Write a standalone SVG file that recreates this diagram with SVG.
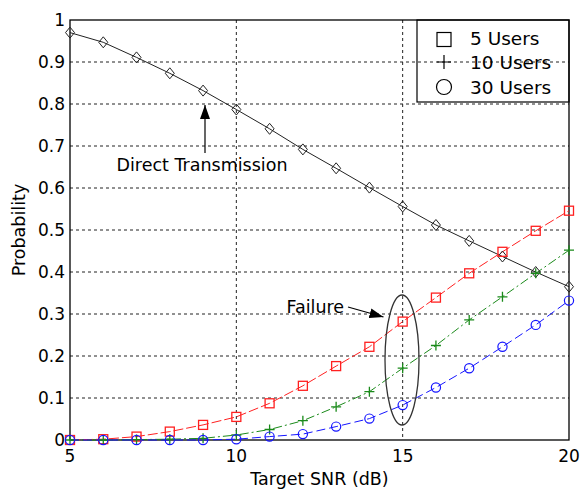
<svg xmlns="http://www.w3.org/2000/svg" width="580" height="490" viewBox="0 0 580 490">
<style>
text{font-family:"DejaVu Sans","Liberation Sans",sans-serif;fill:#000}
.tk{font-size:17px}
.yl{text-anchor:end}
.xl{text-anchor:middle}
.grid{stroke:#222;stroke-width:1;stroke-dasharray:3 3;fill:none}
.ax{stroke:#000;stroke-width:1.3;fill:none}
.s-black{stroke:#222;stroke-width:1;fill:none}
.s-red{stroke:#ff2020;stroke-width:1;fill:none;stroke-dasharray:10 3}
.s-green{stroke:#1a8a1a;stroke-width:1;fill:none;stroke-dasharray:9 3 2 3}
.s-blue{stroke:#1515ff;stroke-width:1;fill:none;stroke-dasharray:9 4}
.lbl{font-size:17.5px}
.leg{font-size:18.5px}
</style>
<defs>
<symbol id="dia" overflow="visible"><path d="M0,-5.5 L4.5,0 L0,5.5 L-4.5,0 Z" fill="none" stroke-dasharray="none"/></symbol>
<symbol id="sq" overflow="visible"><rect x="-4.5" y="-4.5" width="9" height="9" fill="none" stroke-dasharray="none" stroke-width="1.3"/></symbol>
<symbol id="pl" overflow="visible"><path d="M-5,0 H5 M0,-5 V5" fill="none" stroke-dasharray="none" stroke-width="1.3"/></symbol>
<symbol id="ci" overflow="visible"><circle r="4.6" fill="none" stroke-dasharray="none" stroke-width="1.2"/></symbol>
<marker id="ah" viewBox="0 0 14 10" refX="14" refY="5" markerWidth="14" markerHeight="10" markerUnits="userSpaceOnUse" orient="auto"><path d="M0,0 L14,5 L0,10 Z" fill="#000"/></marker>
</defs>

<g id="grid">
<path class="grid" d="M236.33,20 V440 M402.67,20 V440"/>
<path class="grid" d="M70,398 H569 M70,356 H569 M70,314 H569 M70,272 H569 M70,230 H569 M70,188 H569 M70,146 H569 M70,104 H569 M70,62 H569"/>
</g>

<g id="axes">
<rect class="ax" x="70" y="20" width="499" height="420"/>
<text class="tk xl" x="70" y="461.5">5</text>
<text class="tk xl" x="236.3" y="461.5">10</text>
<text class="tk xl" x="402.7" y="461.5">15</text>
<text class="tk xl" x="569" y="461.5">20</text>
<text class="tk yl" x="65" y="446">0</text>
<text class="tk yl" x="65" y="404">0.1</text>
<text class="tk yl" x="65" y="362">0.2</text>
<text class="tk yl" x="65" y="320">0.3</text>
<text class="tk yl" x="65" y="278">0.4</text>
<text class="tk yl" x="65" y="236">0.5</text>
<text class="tk yl" x="65" y="194">0.6</text>
<text class="tk yl" x="65" y="152">0.7</text>
<text class="tk yl" x="65" y="110">0.8</text>
<text class="tk yl" x="65" y="68">0.9</text>
<text class="tk yl" x="65" y="26">1</text>
<text class="lbl" x="319.5" y="484.5" text-anchor="middle" font-size="18">Target SNR (dB)</text>
<text class="lbl" transform="translate(25,230) rotate(-90)" text-anchor="middle">Probability</text>
</g>

<g id="connectors">
<polyline id="curve-direct" class="s-black" points="70,32.6 103.27,42.3 136.53,57.4 169.8,73.3 203.07,90.6 236.33,109.5 269.6,128.8 302.87,149.4 336.13,168.3 369.4,187.6 402.67,206.5 435.93,225 469.2,240.9 502.47,256.5 535.73,272 569,286.7"/>
<polyline id="curve-5" class="s-red" points="70,440 103.27,439.2 136.53,436.6 169.8,431.6 203.07,424.9 236.33,416.9 269.6,403.3 302.87,385.8 336.13,366.1 369.4,346.8 402.67,321.6 435.93,297.6 469.2,273.3 502.47,251.8 535.73,230.8 569,210.7"/>
<polyline id="curve-10" class="s-green" points="70,440 103.27,440 136.53,439.6 169.8,439.2 203.07,438.3 236.33,435 269.6,429.5 302.87,420.7 336.13,406.8 369.4,391.7 402.67,368.2 435.93,345.5 469.2,319.9 502.47,296.8 535.73,273.3 569,250.2"/>
<polyline id="curve-30" class="s-blue" points="70,440 103.27,440 136.53,440 169.8,440 203.07,440 236.33,439.2 269.6,436.6 302.87,434.1 336.13,426.6 369.4,418.6 402.67,405.1 435.93,387.5 469.2,368.2 502.47,346.8 535.73,324.9 569,300.6"/>
<line id="arrow-direct" x1="205" y1="153" x2="205" y2="105" stroke="#000" stroke-width="1.2" marker-end="url(#ah)"/>
<line id="arrow-failure" x1="348" y1="307" x2="383.5" y2="317" stroke="#000" stroke-width="1.2" marker-end="url(#ah)"/>
</g>

<g id="markers-direct" stroke="#222">
<use href="#dia" x="70" y="32.6"/><use href="#dia" x="103.27" y="42.3"/><use href="#dia" x="136.53" y="57.4"/><use href="#dia" x="169.8" y="73.3"/><use href="#dia" x="203.07" y="90.6"/><use href="#dia" x="236.33" y="109.5"/><use href="#dia" x="269.6" y="128.8"/><use href="#dia" x="302.87" y="149.4"/><use href="#dia" x="336.13" y="168.3"/><use href="#dia" x="369.4" y="187.6"/><use href="#dia" x="402.67" y="206.5"/><use href="#dia" x="435.93" y="225"/><use href="#dia" x="469.2" y="240.9"/><use href="#dia" x="502.47" y="256.5"/><use href="#dia" x="535.73" y="272"/><use href="#dia" x="569" y="286.7"/>
</g>
<g id="markers-5" stroke="#ff2020">
<use href="#sq" x="70" y="440"/><use href="#sq" x="103.27" y="439.2"/><use href="#sq" x="136.53" y="436.6"/><use href="#sq" x="169.8" y="431.6"/><use href="#sq" x="203.07" y="424.9"/><use href="#sq" x="236.33" y="416.9"/><use href="#sq" x="269.6" y="403.3"/><use href="#sq" x="302.87" y="385.8"/><use href="#sq" x="336.13" y="366.1"/><use href="#sq" x="369.4" y="346.8"/><use href="#sq" x="402.67" y="321.6"/><use href="#sq" x="435.93" y="297.6"/><use href="#sq" x="469.2" y="273.3"/><use href="#sq" x="502.47" y="251.8"/><use href="#sq" x="535.73" y="230.8"/><use href="#sq" x="569" y="210.7"/>
</g>
<g id="markers-10" stroke="#1a8a1a">
<use href="#pl" x="70" y="440"/><use href="#pl" x="103.27" y="440"/><use href="#pl" x="136.53" y="439.6"/><use href="#pl" x="169.8" y="439.2"/><use href="#pl" x="203.07" y="438.3"/><use href="#pl" x="236.33" y="435"/><use href="#pl" x="269.6" y="429.5"/><use href="#pl" x="302.87" y="420.7"/><use href="#pl" x="336.13" y="406.8"/><use href="#pl" x="369.4" y="391.7"/><use href="#pl" x="402.67" y="368.2"/><use href="#pl" x="435.93" y="345.5"/><use href="#pl" x="469.2" y="319.9"/><use href="#pl" x="502.47" y="296.8"/><use href="#pl" x="535.73" y="273.3"/><use href="#pl" x="569" y="250.2"/>
</g>
<g id="markers-30" stroke="#1515ff">
<use href="#ci" x="70" y="440"/><use href="#ci" x="103.27" y="440"/><use href="#ci" x="136.53" y="440"/><use href="#ci" x="169.8" y="440"/><use href="#ci" x="203.07" y="440"/><use href="#ci" x="236.33" y="439.2"/><use href="#ci" x="269.6" y="436.6"/><use href="#ci" x="302.87" y="434.1"/><use href="#ci" x="336.13" y="426.6"/><use href="#ci" x="369.4" y="418.6"/><use href="#ci" x="402.67" y="405.1"/><use href="#ci" x="435.93" y="387.5"/><use href="#ci" x="469.2" y="368.2"/><use href="#ci" x="502.47" y="346.8"/><use href="#ci" x="535.73" y="324.9"/><use href="#ci" x="569" y="300.6"/>
</g>

<g id="failure-ellipse">
<ellipse cx="402" cy="360" rx="17" ry="65" fill="none" stroke="#333" stroke-width="1.3"/>
</g>
<g id="label-failure">
<text class="lbl" x="286.5" y="313">Failure</text>
</g>
<g id="label-direct">
<text class="lbl" x="116.5" y="171">Direct Transmission</text>
</g>

<g id="legend">
<rect x="417" y="20" width="152" height="82" fill="none" stroke="#000" stroke-width="1.2"/>
<rect x="437" y="32.5" width="14" height="14" fill="none" stroke="#000" stroke-width="1.2"/>
<path d="M437,62 H451 M444,55 V69" stroke="#000" stroke-width="1.2"/>
<circle cx="444" cy="87" r="7.5" fill="none" stroke="#000" stroke-width="1.2"/>
<text class="leg" x="470" y="45">5 Users</text>
<text class="leg" x="470" y="69">10 Users</text>
<text class="leg" x="470" y="94">30 Users</text>
</g>
</svg>
